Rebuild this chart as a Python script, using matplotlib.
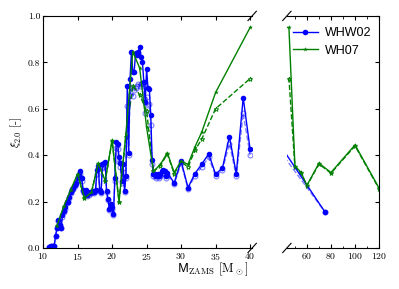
import matplotlib
matplotlib.use('Agg')
import matplotlib.pyplot as plt
from matplotlib.ticker import MultipleLocator

plt.rcParams['font.family'] = 'serif'
plt.rcParams['font.serif'] = ['cmr10']
plt.rcParams['mathtext.fontset'] = 'cm'
plt.rcParams['axes.formatter.use_mathtext'] = True

# WHW02 progenitors: compactness xi_2.0 (solid = filled, dashed = open)
whw_mass = [10.8, 11.0, 11.2, 11.4, 11.6, 11.8, 12.0, 12.2, 12.4, 12.6, 12.8,
            13.0, 13.2, 13.4, 13.6, 13.8, 14.0, 14.2, 14.4, 14.6, 14.8,
            15.0, 15.2, 15.4, 15.6, 15.8, 16.0, 16.2, 16.4, 16.6, 16.8,
            17.0, 17.2, 17.4, 17.6, 17.8, 18.0, 18.2, 18.4, 18.6, 18.8,
            19.0, 19.2, 19.4, 19.6, 19.8, 20.0, 20.2, 20.4, 20.6, 20.8,
            21.0, 21.2, 21.4, 21.6, 21.8, 22.0, 22.2, 22.4, 22.6, 22.8,
            23.0, 23.2, 23.4, 23.6, 23.8, 24.0, 24.2, 24.4, 24.6, 24.8,
            25.0, 25.2, 25.4, 25.6, 25.8, 26.0, 26.2, 26.4, 26.6, 26.8,
            27.0, 27.2, 27.4, 27.6, 27.8, 28.0,
            29, 30, 31, 32, 33, 34, 35, 36, 37, 38, 39, 40, 75]
whw_xi = [0.003, 0.005, 0.008, 0.010, 0.008, 0.050, 0.085, 0.120, 0.100, 0.085, 0.140,
          0.160, 0.175, 0.200, 0.200, 0.220, 0.240, 0.255, 0.260, 0.270, 0.280,
          0.300, 0.320, 0.330, 0.300, 0.250, 0.240, 0.250, 0.230, 0.235, 0.240,
          0.240, 0.245, 0.240, 0.250, 0.335, 0.355, 0.250, 0.240, 0.360, 0.365,
          0.370, 0.245, 0.210, 0.170, 0.190, 0.175, 0.145, 0.300, 0.455, 0.450,
          0.390, 0.365, 0.290, 0.360, 0.245, 0.310, 0.700, 0.410, 0.730, 0.845,
          0.760, 0.760, 0.840, 0.830, 0.845, 0.865, 0.825, 0.800, 0.715, 0.630,
          0.770, 0.690, 0.685, 0.575, 0.380, 0.320, 0.320, 0.310, 0.320, 0.310,
          0.320, 0.330, 0.335, 0.330, 0.310, 0.325,
          0.280, 0.375, 0.260, 0.320, 0.362, 0.405, 0.318, 0.345, 0.480, 0.320, 0.648, 0.425, 0.155]
whw_xi_alt = [0.003, 0.005, 0.008, 0.010, 0.008, 0.050, 0.085, 0.115, 0.100, 0.085, 0.135,
              0.155, 0.170, 0.195, 0.200, 0.215, 0.235, 0.250, 0.255, 0.265, 0.275,
              0.295, 0.310, 0.320, 0.290, 0.245, 0.235, 0.245, 0.225, 0.230, 0.235,
              0.235, 0.240, 0.235, 0.245, 0.320, 0.340, 0.245, 0.235, 0.345, 0.350,
              0.355, 0.240, 0.205, 0.165, 0.185, 0.170, 0.140, 0.290, 0.430, 0.425,
              0.370, 0.350, 0.280, 0.345, 0.240, 0.300, 0.610, 0.400, 0.660, 0.695,
              0.655, 0.680, 0.690, 0.700, 0.705, 0.700, 0.705, 0.710, 0.640, 0.580,
              0.650, 0.617, 0.620, 0.530, 0.360, 0.310, 0.310, 0.300, 0.310, 0.300,
              0.310, 0.320, 0.325, 0.320, 0.300, 0.315,
              0.275, 0.365, 0.255, 0.310, 0.350, 0.390, 0.310, 0.335, 0.450, 0.310, 0.580, 0.400, 0.155]

# WH07 progenitors
wh_mass = [12, 13, 14, 15, 16, 17, 18, 19, 20, 21, 22, 23, 24, 25, 26, 27, 28,
           29, 30, 31, 32, 33, 35, 40, 45, 50, 55, 60, 70, 80, 100, 120]
wh_xi = [0.095, 0.180, 0.250, 0.320, 0.215, 0.240, 0.365, 0.290, 0.465, 0.200,
         0.490, 0.846, 0.775, 0.520, 0.330, 0.360, 0.410, 0.325, 0.375, 0.360,
         0.435, 0.500, 0.670, 0.950, 0.950, 0.353, 0.326, 0.270, 0.365, 0.325,
         0.444, 0.258]
wh_xi_alt = [0.095, 0.175, 0.245, 0.315, 0.215, 0.240, 0.360, 0.290, 0.460, 0.200,
             0.480, 0.700, 0.660, 0.590, 0.330, 0.355, 0.405, 0.320, 0.370, 0.350,
             0.420, 0.470, 0.600, 0.730, 0.730, 0.350, 0.322, 0.268, 0.362, 0.322,
             0.440, 0.255]

blue = '#0000ff'
green = '#008000'

fig = plt.figure(figsize=(3.99, 2.89), dpi=100)
ax1 = fig.add_axes([0.108, 0.142, 0.524, 0.803])
ax2 = fig.add_axes([0.719, 0.142, 0.231, 0.803])

for ax in (ax1, ax2):
    ax.plot(whw_mass, whw_xi_alt, '--', color=blue, lw=1, marker='o', ms=3.5,
            mfc='none', mew=0.8, alpha=0.5)
    ax.plot(wh_mass, wh_xi_alt, '--', color=green, lw=1, marker='*', ms=3.5,
            mfc='none', mew=0.6)
    ax.plot(whw_mass, whw_xi, '-', color=blue, lw=1, marker='o', ms=4,
            mew=0, label='WHW02')
    ax.plot(wh_mass, wh_xi, '-', color=green, lw=1, marker='*', ms=3.5,
            mew=0, label='WH07')
    ax.set_ylim(0, 1)
    ax.tick_params(direction='in', labelsize=7, length=3, top=True, pad=2)
    ax.tick_params(which='minor', direction='in', length=1.8, top=True)

ax1.set_xlim(10, 40.3)
ax1.xaxis.set_major_locator(MultipleLocator(5))
ax1.yaxis.set_major_locator(MultipleLocator(0.2))
ax1.yaxis.set_major_formatter(plt.FormatStrFormatter('%.1f'))
ax1.spines['right'].set_visible(False)
ax1.tick_params(right=False)

ax2.set_xlim(43.3, 120)
ax2.xaxis.set_major_locator(MultipleLocator(20))
ax2.xaxis.set_minor_locator(MultipleLocator(10))
ax2.yaxis.set_major_locator(MultipleLocator(0.2))
ax2.spines['left'].set_visible(False)
ax2.tick_params(left=False, right=True, labelleft=False)

# break marks
d = 0.02
kw = dict(color='k', lw=0.8, clip_on=False)
ax1.plot((1 - d, 1 + d), (-d, d), transform=ax1.transAxes, **kw)
ax1.plot((1 - d, 1 + d), (1 - d, 1 + d), transform=ax1.transAxes, **kw)
d2 = d * 0.524 / 0.231
ax2.plot((-d2, d2), (-d, d), transform=ax2.transAxes, **kw)
ax2.plot((-d2, d2), (1 - d, 1 + d), transform=ax2.transAxes, **kw)

ax1.set_ylabel(r'$\xi_{2.0}$ [-]', fontsize=8.5, labelpad=3)
fig.text(0.534, 0.068, r'$\mathsf{M}_{\rm ZAMS}$ [M$_\odot$]', ha='center',
         va='center', fontsize=9)

ax2.legend(loc='upper left', bbox_to_anchor=(-0.06, 1.0), frameon=False,
           numpoints=1, prop={'family': 'Liberation Sans', 'size': 9},
           handlelength=2.0, handletextpad=0.6, labelspacing=0.45)

fig.savefig('out.png', dpi=100)
